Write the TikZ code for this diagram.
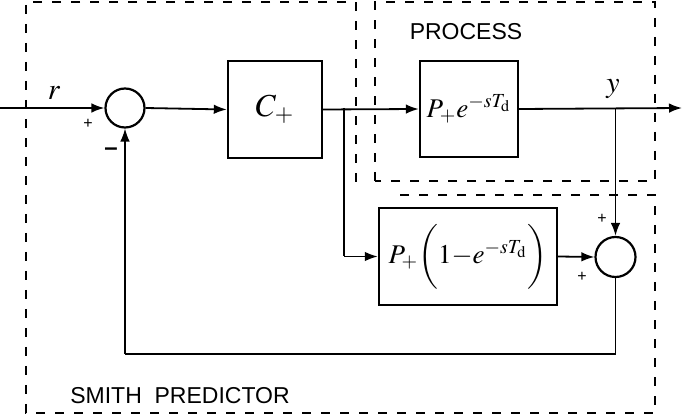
\documentclass[tikz,border=0pt]{standalone}
\usepackage{mathptmx}
\usepackage{fontspec}
\newfontfamily\labfont{Liberation Sans}
\usetikzlibrary{arrows.meta}
\begin{document}
\begin{tikzpicture}[x=0.5pt,y=-0.5pt,
  blk/.style={draw,line width=1.2pt,rectangle,inner sep=0pt},
  sumc/.style={draw,line width=1.1pt,circle,minimum size=19.5pt,inner sep=0pt},
  conn/.style={line width=0.9pt,-{Latex[length=6.5pt,width=4.8pt]}},
  plain/.style={line width=0.9pt},
  fb/.style={line width=0.7pt},
  dashbox/.style={line width=1pt,dash pattern=on 4.5pt off 5pt},
  sgn/.style={font=\labfont\fontsize{8}{9}\selectfont,inner sep=0pt},
  boxlab/.style={font=\labfont\fontsize{11.5}{13}\selectfont,inner sep=0pt}]
\useasboundingbox (0,0) rectangle (685,416);
% dashed regions
\draw[dashbox] (356,182) -- (356,2) -- (26,2) -- (26,413) -- (655,413) -- (655,195) -- (398,195);
\draw[dashbox] (375,181) -- (375,2) -- (655,2) -- (655,181) -- cycle;
\node[boxlab] (proc) at (466,32) {PROCESS};
\node[boxlab] (smith) at (180,396) {SMITH\ \ PREDICTOR};
% blocks
\node[sumc] (s1) at (125,108) {};
\node[blk,minimum width=47pt,minimum height=48.5pt] (C) at (275,109.5) {\fontsize{16}{18}\selectfont$C_{+}$};
\node[blk,minimum width=49pt,minimum height=48pt] (P1) at (469,109) {\fontsize{13.5}{16}\selectfont$P_{+}e^{-sT_{\mathrm{d}}}$};
\node[blk,minimum width=89pt,minimum height=48.5pt] (P2) at (468,256.5) {\fontsize{13.5}{16}\selectfont$P_{+}\biggl(1{-}e^{-sT_{\mathrm{d}}}\biggr)$};
\node[sumc,minimum size=20pt] (s2) at (615.5,257) {};
% coordinates
\coordinate (in) at (0,108);
\coordinate (out) at (682,108);
\coordinate (b1) at (344,108);
\coordinate (b1d) at (344,256.5);
\coordinate (b2) at (615.5,108);
\coordinate (f1) at (615.5,354);
\coordinate (f2) at (125,354);
% connectors
\draw[conn] (in) -- (s1.west);
\draw[conn] (s1.east) -- (C.west);
\draw[conn] (C.east) -- (P1.west);
\draw[conn] (P1.east) -- (out);
\draw[plain] (b1) -- (b1d);
\draw[conn] (b1d) -- (P2.west);
\draw[conn] (b2) -- (s2.north);
\draw[conn] (P2.east) -- (s2.west);
\draw[fb] (s2.south) -- (f1) -- (f2);
\draw[fb,-{Latex[length=6.5pt,width=4.8pt]}] (f2) -- (s1.south);
% labels
\node[inner sep=0pt] (r) at (54,93) {\fontsize{15}{17}\selectfont$r$};
\node[inner sep=0pt] (y) at (613,89) {\fontsize{15}{17}\selectfont$y$};
\node[sgn] (p1) at (88,124) {+};
\node[font=\labfont\bfseries\fontsize{12}{14}\selectfont,inner sep=0pt] (m1) at (111,152) {–};
\node[sgn] (p2) at (602,219) {+};
\node[sgn] (p3) at (582,277) {+};
\end{tikzpicture}
\end{document}
